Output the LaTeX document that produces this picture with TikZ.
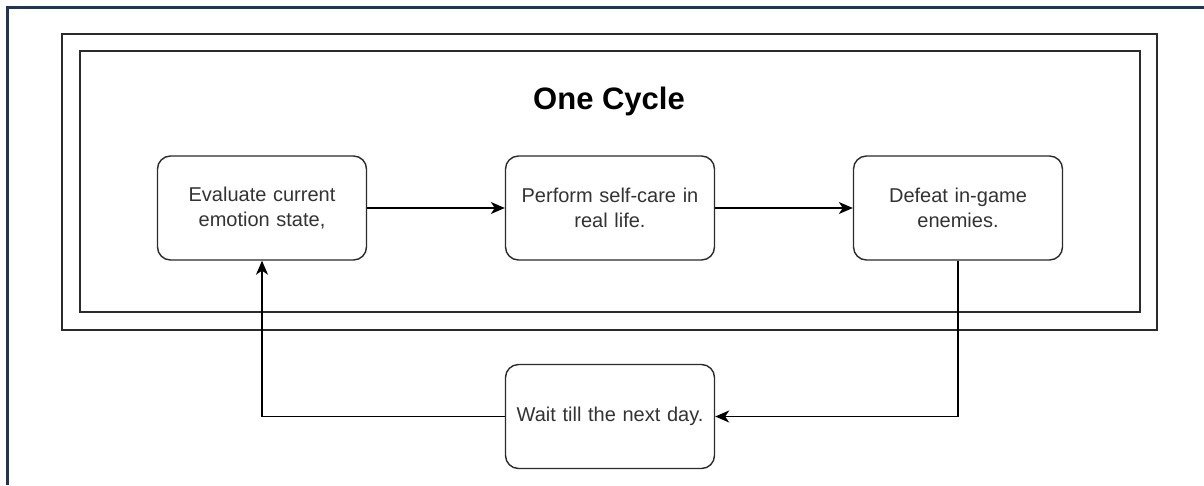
\documentclass[tikz,border=0pt]{standalone}
\usepackage{fontspec}
\setmainfont{Liberation Sans}
\usetikzlibrary{arrows.meta,positioning}
\definecolor{navy}{HTML}{1F3557}
\definecolor{linegray}{HTML}{2B2B2B}
\definecolor{textgray}{HTML}{333333}
\tikzset{
  stepbox/.style={draw=linegray, line width=1.4pt, rounded corners=13pt, fill=white,
    minimum width=209pt, minimum height=104pt, text width=190pt, align=center,
    text=textgray, font=\fontsize{20}{25}\selectfont, inner sep=0pt},
  frame/.style={draw=linegray, line width=1.6pt},
  conn/.style={draw=black, line width=1.4pt, -{Stealth[length=14pt,width=12pt,inset=4pt]}},
}
\begin{document}
\begin{tikzpicture}[x=1pt,y=-1pt]
\useasboundingbox (0,0) rectangle (1204,485);
\fill[white] (0,0) rectangle (1204,485);
% screenshot border (top and left visible)
\draw[navy, line width=2.4pt] (7.5,485) -- (7.5,7.5) -- (1204,7.5);
% outer and inner frames
\draw[frame] (62,34) rectangle (1157,330);
\draw[frame] (80,51) rectangle (1140,312);
\node[font=\bfseries\fontsize{31}{36}\selectfont] (title) at (609,101) {One Cycle};
\node[stepbox] (eval) at (262,208) {Evaluate current\\emotion state,};
\node[stepbox] (care) at (610,208) {Perform self-care in\\real life.};
\node[stepbox] (defeat) at (958,208) {Defeat in-game\\enemies.};
\node[stepbox] (wait) at (610,416.5) {Wait till the next day.};
\draw[conn] (eval) -- (care);
\draw[conn] (care) -- (defeat);
\draw[conn] (defeat.south) |- (wait.east);
\draw[conn] (wait.west) -| (eval.south);
\end{tikzpicture}
\end{document}
